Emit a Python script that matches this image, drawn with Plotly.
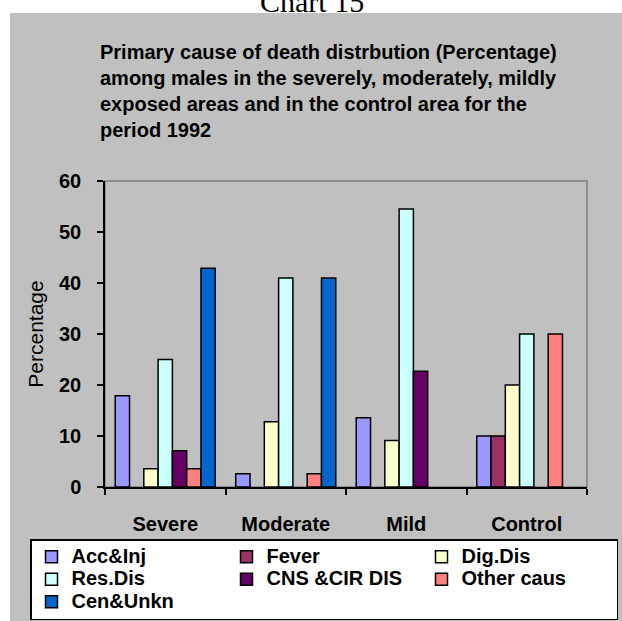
import plotly.graph_objects as go

categories = ["Severe", "Moderate", "Mild", "Control"]
series_names = ["Acc&Inj", "Fever", "Dig.Dis", "Res.Dis", "CNS &CIR DIS", "Other caus", "Cen&Unkn"]
acc_inj = [17.9, 2.6, 13.6, 10]
fever = [None, None, None, 10]
dig_dis = [3.6, 12.8, 9.1, 20]
res_dis = [25.0, 41.0, 54.5, 30]
cns_cir = [7.1, None, 22.7, None]
other_caus = [3.6, 2.6, None, 30]
cen_unkn = [42.9, 41.0, None, None]
series_values = [acc_inj, fever, dig_dis, res_dis, cns_cir, other_caus, cen_unkn]
colors = ["#9999FF", "#993366", "#FFFFCC", "#CCFFFF", "#660066", "#FF8080", "#0066CC"]

W, H = 622, 621
L, R, T, B = 105, 35, 181, 134
pw, ph = W - L - R, H - T - B

def px_x(p):
    return (p - L) / pw

def px_y(p):
    return (H - B - p) / ph

FONT = "Liberation Sans, Arial, sans-serif"

fig = go.Figure()
for name, vals, col in zip(series_names, series_values, colors):
    fig.add_trace(go.Bar(
        x=categories, y=vals,
        name="<span style='font-size:20px'>" + name + "</span>",
        marker=dict(color=col, line=dict(color="black", width=1.5)),
    ))

fig.update_layout(
    width=W, height=H,
    margin=dict(l=L, r=R, t=T, b=B, autoexpand=False),
    paper_bgcolor="white",
    plot_bgcolor="#C0C0C0",
    barmode="group",
    bargap=0.17,
    bargroupgap=0,
    font=dict(family=FONT, color="black"),
    title=dict(
        text="Primary cause of death distrbution (Percentage)<br>among males in the severely, moderately, mildly<br>exposed areas and in the control area for the<br>period 1992",
        font=dict(family=FONT, size=20, weight="bold", color="black"),
        x=100 / W, xref="container", xanchor="left",
        y=1 - 59 / H, yref="container", yanchor="top",
    ),
    showlegend=True,
    legend=dict(
        orientation="h",
        x=px_x(30), y=px_y(539), xanchor="left", yanchor="top",
        bgcolor="white", bordercolor="black", borderwidth=1.5,
        font=dict(family=FONT, size=15, weight="bold", color="black"),
        entrywidth=150, entrywidthmode="pixels",
        itemwidth=30, traceorder="normal",
    ),
    shapes=[
        dict(type="rect", xref="paper", yref="paper",
             x0=px_x(10), x1=px_x(W + 5), y0=px_y(13), y1=px_y(H + 5),
             fillcolor="#C0C0C0", line=dict(width=0), layer="below"),
        dict(type="rect", xref="paper", yref="paper",
             x0=0, x1=1, y0=0, y1=1,
             line=dict(color="#808080", width=1.5), layer="below"),
    ],
    annotations=[
        dict(text="Chart 15", xref="paper", yref="paper",
             x=px_x(312), y=px_y(20), xanchor="center", yanchor="bottom",
             showarrow=False,
             font=dict(family="Liberation Serif, Times New Roman, serif", size=30, color="black")),
    ],
)

fig.update_xaxes(
    showline=True, linecolor="black", linewidth=1.5,
    ticks="outside", tickson="boundaries", ticklen=6, tickcolor="black", tickwidth=1.5,
    tickfont=dict(family=FONT, size=20, weight="bold", color="black"),
    ticklabelstandoff=18,
    showgrid=False,
)
fig.update_yaxes(
    range=[0, 60], dtick=10,
    showline=True, linecolor="black", linewidth=1.5,
    ticks="outside", ticklen=6, tickcolor="black", tickwidth=1.5,
    tickfont=dict(family=FONT, size=20, weight="bold", color="black"),
    ticklabelstandoff=12,
    showgrid=False, zeroline=False,
    title=dict(text="Percentage", font=dict(family=FONT, size=21, color="black"), standoff=10),
)

fig.write_html("out.html", config={"displayModeBar": False},
               post_script="document.body.style.margin='0';")
